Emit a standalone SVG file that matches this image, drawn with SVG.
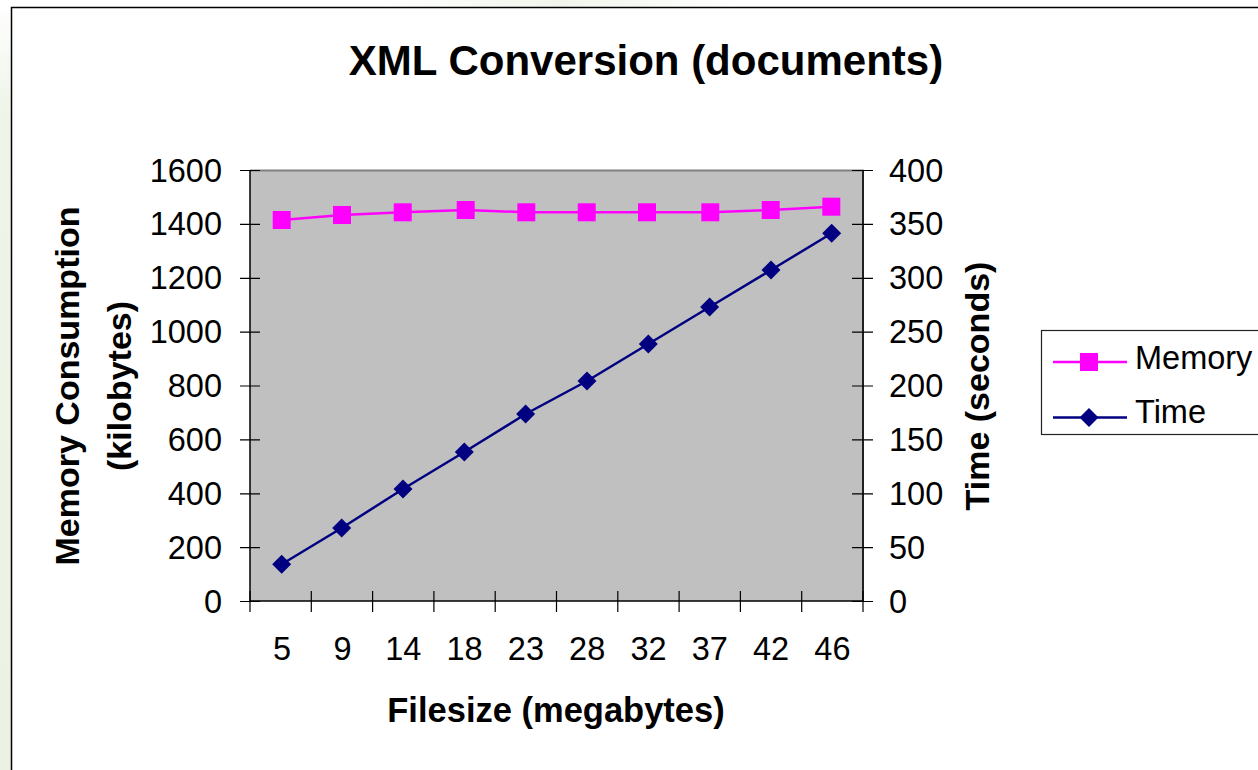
<svg xmlns="http://www.w3.org/2000/svg" width="1258" height="770" viewBox="0 0 1258 770">
<defs>
<linearGradient id="lg" x1="0" y1="0" x2="0" y2="1">
<stop offset="0" stop-color="#ffffff"/>
<stop offset="0.15" stop-color="#eef4e8"/>
<stop offset="1" stop-color="#ebf2e3"/>
</linearGradient>
<linearGradient id="tg" x1="0" y1="0" x2="1" y2="0">
<stop offset="0" stop-color="#ffffff"/>
<stop offset="0.5" stop-color="#f1f6ec"/>
<stop offset="1" stop-color="#ffffff"/>
</linearGradient>
<rect id="sq" x="-9" y="-9" width="18" height="18" fill="#ff00ff"/>
<polygon id="dm" points="0,-9.5 9.5,0 0,9.5 -9.5,0" fill="#000080"/>
</defs>
<style>
.t{font-family:"Liberation Sans",Arial,sans-serif;fill:#000}
.tick{font-size:32.5px}
.b{font-weight:bold;font-size:34px}
.ax{stroke:#000;stroke-width:1.5;fill:none}
.tk{stroke:#000;stroke-width:1.2}
</style>
<rect x="0" y="0" width="1258" height="770" fill="#ffffff"/>
<rect x="0" y="0" width="11" height="770" fill="url(#lg)"/>
<rect x="380" y="0" width="360" height="7" fill="url(#tg)"/>
<rect x="11.5" y="7.5" width="1270" height="780" fill="#ffffff" stroke="#000" stroke-width="1.5"/>

<text class="t" x="646" y="75" font-size="42" font-weight="bold" text-anchor="middle">XML Conversion (documents)</text>

<g id="plot">
<rect x="250" y="170" width="613" height="431" fill="#c0c0c0"/>
<path d="M250,170.5 H863 V601" fill="none" stroke="#808080" stroke-width="2"/>
<path class="ax" d="M250,170 V601 H863 V170"/>
</g>

<g id="ticks">
<path class="tk" d="M240,170.5H260M240,224.4H260M240,278.3H260M240,332.1H260M240,386H260M240,439.9H260M240,493.8H260M240,547.6H260M240,601.5H260"/>
<path class="tk" d="M852,170.5H873M852,224.4H873M852,278.3H873M852,332.1H873M852,386H873M852,439.9H873M852,493.8H873M852,547.6H873M852,601.5H873"/>
<path class="tk" d="M250,591V612M311.3,591V612M372.6,591V612M433.9,591V612M495.2,591V612M556.5,591V612M617.8,591V612M679.1,591V612M740.4,591V612M801.7,591V612M863,591V612"/>
</g>

<g id="left-labels" class="t tick" text-anchor="end">
<text x="222" y="181.5">1600</text>
<text x="222" y="235.4">1400</text>
<text x="222" y="289.3">1200</text>
<text x="222" y="343.1">1000</text>
<text x="222" y="397">800</text>
<text x="222" y="450.9">600</text>
<text x="222" y="504.8">400</text>
<text x="222" y="558.6">200</text>
<text x="222" y="612.5">0</text>
</g>
<g id="right-labels" class="t tick">
<text x="889" y="181.5">400</text>
<text x="889" y="235.4">350</text>
<text x="889" y="289.3">300</text>
<text x="889" y="343.1">250</text>
<text x="889" y="397">200</text>
<text x="889" y="450.9">150</text>
<text x="889" y="504.8">100</text>
<text x="889" y="558.6">50</text>
<text x="889" y="612.5">0</text>
</g>
<g id="x-labels" class="t tick" text-anchor="middle">
<text x="282" y="660">5</text>
<text x="342.5" y="660">9</text>
<text x="403.3" y="660">14</text>
<text x="464.6" y="660">18</text>
<text x="525.9" y="660">23</text>
<text x="587.2" y="660">28</text>
<text x="648.5" y="660">32</text>
<text x="709.8" y="660">37</text>
<text x="771.1" y="660">42</text>
<text x="832.4" y="660">46</text>
</g>

<text class="t" x="556" y="722" font-size="34.5" font-weight="bold" text-anchor="middle">Filesize (megabytes)</text>
<g id="y-title" class="t b" text-anchor="middle">
<text transform="translate(79,386) rotate(-90)">Memory Consumption</text>
<text transform="translate(131,386) rotate(-90)">(kilobytes)</text>
</g>
<text class="t b" text-anchor="middle" transform="translate(989,386) rotate(-90)">Time (seconds)</text>

<g id="connectors">
<polyline points="281.7,220 342,215 402.7,212.3 465.7,210 526.3,212.3 586.7,212.3 647,212.3 710.3,212.3 770.7,210 831.3,206.7" fill="none" stroke="#ff00ff" stroke-width="2.5"/>
<polyline points="281.7,564.3 341.7,528 403,489 464.3,452 525.6,414 587,381 648.3,344 709.6,307 771,270 831.7,233.3" fill="none" stroke="#000080" stroke-width="2.5"/>
</g>

<g id="memory-points">
<use href="#sq" x="281.7" y="220"/>
<use href="#sq" x="342" y="215"/>
<use href="#sq" x="402.7" y="212.3"/>
<use href="#sq" x="465.7" y="210"/>
<use href="#sq" x="526.3" y="212.3"/>
<use href="#sq" x="586.7" y="212.3"/>
<use href="#sq" x="647" y="212.3"/>
<use href="#sq" x="710.3" y="212.3"/>
<use href="#sq" x="770.7" y="210"/>
<use href="#sq" x="831.3" y="206.7"/>
</g>
<g id="time-points">
<use href="#dm" x="281.7" y="564.3"/>
<use href="#dm" x="341.7" y="528"/>
<use href="#dm" x="403" y="489"/>
<use href="#dm" x="464.3" y="452"/>
<use href="#dm" x="525.6" y="414"/>
<use href="#dm" x="587" y="381"/>
<use href="#dm" x="648.3" y="344"/>
<use href="#dm" x="709.6" y="307"/>
<use href="#dm" x="771" y="270"/>
<use href="#dm" x="831.7" y="233.3"/>
</g>

<g id="legend">
<rect x="1041.5" y="330.5" width="240" height="104" fill="#ffffff" stroke="#222" stroke-width="1.2"/>
<line x1="1053" y1="362" x2="1127" y2="362" stroke="#ff00ff" stroke-width="2.5"/>
<use href="#sq" x="1089" y="362"/>
<text class="t tick" x="1135" y="369">Memory</text>
<line x1="1053" y1="417.5" x2="1127" y2="417.5" stroke="#000080" stroke-width="2.5"/>
<use href="#dm" x="1089" y="417.5"/>
<text class="t tick" x="1135" y="423">Time</text>
</g>
</svg>
